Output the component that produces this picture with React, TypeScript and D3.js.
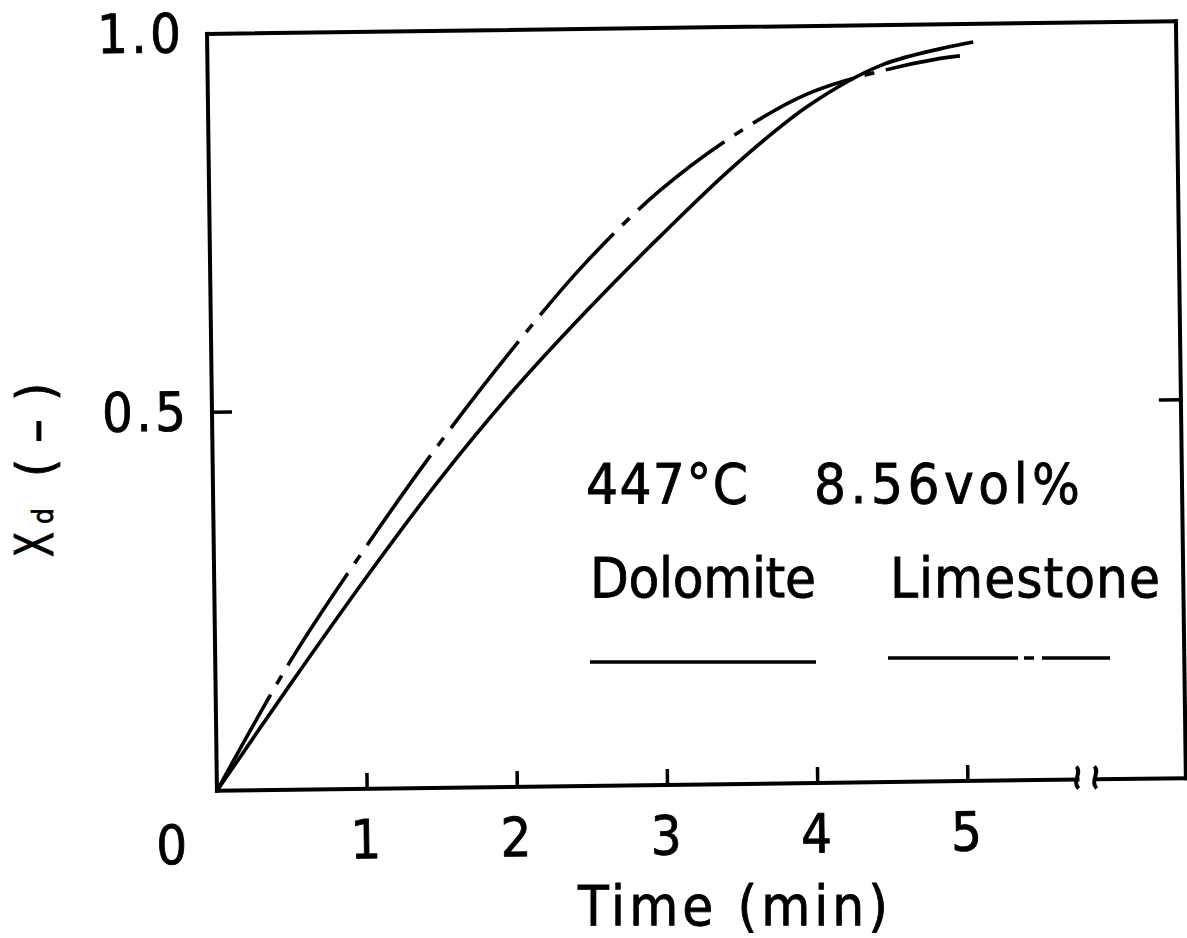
import React from "react";
import * as d3 from "d3";

// ---- data ----
const timeTicks = [1, 2, 3, 4, 5];
const yTicks = [0.5, 1.0];
const yTickLabels = ["0.5", "1.0"];

const dolomiteTime = [0, 0.5, 1.0, 1.5, 2.0, 2.5, 3.0, 3.5, 4.0, 4.5, 5.1];
const dolomiteXd = [0, 0.14, 0.276, 0.405, 0.522, 0.627, 0.725, 0.817, 0.895, 0.948, 0.976];

const limestoneTime = [0, 0.5, 1.0, 1.5, 2.0, 2.5, 3.0, 3.5, 4.0, 4.5, 4.88, 5.01];
const limestoneXd = [0, 0.17, 0.316, 0.452, 0.577, 0.691, 0.785, 0.857, 0.911, 0.94, 0.955, 0.958];

const conditionLabels = ["447°C", "8.56vol%"];
const seriesLabels = ["Dolomite", "Limestone"];

const W = 1187;
const H = 938;
const FONT = "'DejaVu Sans Condensed', 'DejaVu Sans', 'Liberation Sans', sans-serif";

export default function App() {
  const left = 212;
  const right = 1181;
  const top = 27.5;
  const bottom = 784.5;

  const x = d3.scaleLinear().domain([0, 5]).range([left, 963]);
  const y = d3.scaleLinear().domain([0, 1]).range([bottom, top]);

  const line = d3
    .line<[number, number]>()
    .x((d) => x(d[0]))
    .y((d) => y(d[1]))
    .curve(d3.curveCatmullRom.alpha(0.5));

  const dolo: [number, number][] = dolomiteTime.map((t, i) => [t, dolomiteXd[i]]);
  const lime: [number, number][] = limestoneTime.map((t, i) => [t, limestoneXd[i]]);

  const breakA = x(5.73);
  const breakB = x(5.85);

  const breakPath = (bx: number) =>
    `M${bx - 1},${bottom - 13} C${bx + 5},${bottom - 7} ${bx - 6},${bottom + 2} ${bx + 1},${bottom + 9}`;

  const textStroke = { stroke: "#000", strokeWidth: 0.8 };

  return (
    <svg
      width={W}
      height={H}
      viewBox={`0 0 ${W} ${H}`}
      style={{ position: "absolute", left: 0, top: 0, background: "#fff" }}
    >
      <rect x={0} y={0} width={W} height={H} fill="#fff" />
      <g transform="rotate(-0.75, 698, 410)">
        {/* frame */}
        <g stroke="#000" strokeWidth={4} fill="none" strokeLinecap="square">
          <line x1={left} y1={top} x2={right} y2={top} />
          <line x1={left} y1={top} x2={left} y2={bottom} />
          <line x1={right} y1={top} x2={right} y2={bottom} />
          <line x1={left} y1={bottom} x2={breakA} y2={bottom} />
          <line x1={breakB} y1={bottom} x2={right} y2={bottom} />
        </g>
        <g stroke="#000" strokeWidth={4} fill="none">
          <path d={breakPath(breakA)} />
          <path d={breakPath(breakB)} />
        </g>
        {/* ticks (inward) */}
        <g stroke="#000" strokeWidth={3.5}>
          {timeTicks.map((t) => (
            <line key={t} x1={x(t)} x2={x(t)} y1={bottom} y2={bottom - 16} />
          ))}
          <line x1={left} x2={left + 20} y1={y(0.5)} y2={y(0.5)} />
          <line x1={right} x2={right - 22} y1={y(0.5)} y2={y(0.5)} />
        </g>
        {/* tick labels */}
        <g fontFamily={FONT} fontSize={54} fill="#000" {...textStroke}>
          {timeTicks.map((t) => (
            <text key={t} x={x(t) - 2} y={854} textAnchor="middle">
              {t}
            </text>
          ))}
          <text x={x(0) - 46} y={857} textAnchor="middle">0</text>
          {yTicks.map((v, i) => (
            <text key={v} x={186} y={y(v) + 18} textAnchor="end" textLength={84} lengthAdjust="spacing">
              {yTickLabels[i]}
            </text>
          ))}
        </g>
        {/* curves */}
        <path d={line(dolo) || ""} fill="none" stroke="#000" strokeWidth={3.6} />
        <path
          d={line(lime) || ""}
          fill="none"
          stroke="#000"
          strokeWidth={3.6}
          strokeDasharray="110,12,10,12"
        />
      </g>

      {/* axis titles */}
      <text x={578} y={925} fontFamily={FONT} fontSize={56} textLength={310} lengthAdjust="spacing" {...textStroke}>
        Time (min)
      </text>
      <g transform="translate(53, 557) rotate(-90)" fontFamily={FONT} fill="#000" {...textStroke}>
        <text x={0} y={0} fontSize={54} textLength={25} lengthAdjust="spacingAndGlyphs">X</text>
        <text x={33} y={0} fontSize={28}>d</text>
        <text x={80} y={0} fontSize={52}>(</text>
        <text x={113} y={0} fontSize={52} textLength={26} lengthAdjust="spacingAndGlyphs">-</text>
        <text x={156} y={0} fontSize={52}>)</text>
      </g>

      {/* legend */}
      <g fontFamily={FONT} fontSize={56} fill="#000" {...textStroke}>
        <text x={586} y={503} textLength={162} lengthAdjust="spacing">{conditionLabels[0]}</text>
        <text x={814} y={503} textLength={266} lengthAdjust="spacing">{conditionLabels[1]}</text>
        <text x={590} y={597} textLength={226} lengthAdjust="spacing">{seriesLabels[0]}</text>
        <text x={890} y={597} textLength={270} lengthAdjust="spacing">{seriesLabels[1]}</text>
      </g>
      <line x1={590} x2={816} y1={662} y2={662} stroke="#000" strokeWidth={3.6} />
      <line
        x1={888}
        x2={1110}
        y1={658}
        y2={658}
        stroke="#000"
        strokeWidth={3.6}
        strokeDasharray="130,6,10,8,80"
      />
    </svg>
  );
}
